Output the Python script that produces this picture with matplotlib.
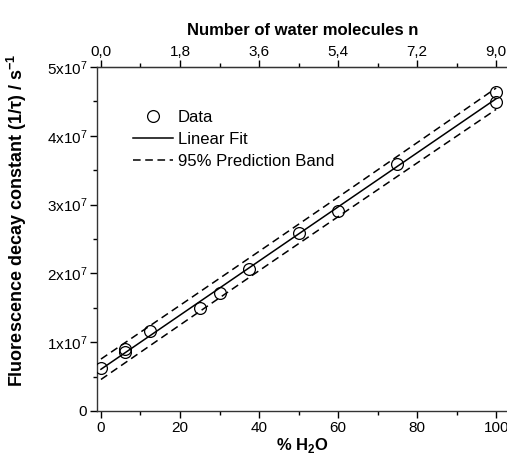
import matplotlib
matplotlib.use("Agg")
import matplotlib.pyplot as plt
from matplotlib.ticker import FixedLocator, MultipleLocator, FuncFormatter
import numpy as np

plt.rcParams["font.family"] = ["Liberation Sans", "DejaVu Sans"]
plt.rcParams["mathtext.fontset"] = "custom"
plt.rcParams["mathtext.rm"] = "Liberation Sans"
plt.rcParams["mathtext.bf"] = "Liberation Sans:bold"

# Data
water_pct = [0, 6, 6, 12.5, 25, 30, 37.5, 50, 60, 75, 100, 100]
decay_rate = [6.2e6, 8.6e6, 9.0e6, 1.16e7, 1.50e7, 1.71e7, 2.07e7, 2.58e7, 2.91e7,
              3.59e7, 4.63e7, 4.49e7]
n_per_pct = 0.09          # molecules n per % H2O (100 % -> 9.0)
t_95 = 2.228              # two-sided 95 % t value, df = 10

x = np.array(water_pct, dtype=float)
y = np.array(decay_rate, dtype=float)
slope, icpt = np.polyfit(x, y, 1)
resid = y - (slope * x + icpt)
n = len(x)
s = np.sqrt(np.sum(resid ** 2) / (n - 2))
xx = np.linspace(0, 100, 200)
yy = slope * xx + icpt
half = t_95 * s * np.sqrt(1 + 1 / n + (xx - x.mean()) ** 2 / np.sum((x - x.mean()) ** 2))

fig = plt.figure(figsize=(5.07, 4.59), dpi=100)
ax = fig.add_axes([97 / 507, 48 / 459, 411 / 507, 344 / 459])

ax.plot(x, y, "o", mfc="none", mec="black", ms=8.5, mew=0.9, label="Data", zorder=3)
ax.plot(xx, yy, "-", color="black", lw=1.1, label="Linear Fit")
ax.plot(xx, yy + half, "--", color="black", lw=1.1, dashes=(5, 3),
        label="95% Prediction Band")
ax.plot(xx, yy - half, "--", color="black", lw=1.1, dashes=(5, 3))

ax.set_xlim(-1, 103)
ax.set_ylim(0, 5e7)
ax.spines["right"].set_visible(False)
for sp in ax.spines.values():
    sp.set_linewidth(1.0)
    sp.set_color("#333333")

ax.xaxis.set_major_locator(MultipleLocator(20))
ax.xaxis.set_minor_locator(MultipleLocator(10))
ax.yaxis.set_major_locator(MultipleLocator(1e7))
ax.yaxis.set_minor_locator(MultipleLocator(5e6))


def yfmt(v, pos):
    if v == 0:
        return "0"
    return r"$\mathregular{%dx10^{7}}$" % round(v / 1e7)


ax.yaxis.set_major_formatter(FuncFormatter(yfmt))
ax.tick_params(which="both", direction="out", labelsize=11, width=1.0, pad=2)
ax.tick_params(which="major", length=5)
ax.tick_params(which="minor", length=3)

ax.set_xlabel(r"% H$_\mathbf{2}$O", fontsize=12, fontweight="bold", labelpad=1)
ax.set_ylabel(r"Fluorescence decay constant (1/$\mathbf{\tau}$) / s$^{\mathbf{-1}}$",
              fontsize=13, fontweight="bold")
ax.yaxis.set_label_coords(-0.165, 0.555)

top = ax.secondary_xaxis("top", functions=(lambda p: p * n_per_pct,
                                           lambda m: m / n_per_pct))
top.xaxis.set_major_locator(FixedLocator([0, 1.8, 3.6, 5.4, 7.2, 9.0]))
top.xaxis.set_minor_locator(FixedLocator([0.9, 2.7, 4.5, 6.3, 8.1]))
top.xaxis.set_major_formatter(FuncFormatter(lambda v, p: f"{v:.1f}".replace(".", ",")))
top.tick_params(which="both", direction="out", labelsize=11, width=1.0, pad=1)
top.tick_params(which="major", length=5)
top.tick_params(which="minor", length=3)
top.set_xlabel("Number of water molecules n", fontsize=12, fontweight="bold", labelpad=7)

ax.legend(loc="upper left", bbox_to_anchor=(0.05, 0.92), frameon=False, fontsize=12,
          handlelength=2.4, handletextpad=0.3, labelspacing=0.42)

fig.savefig("out.png", dpi=100)
